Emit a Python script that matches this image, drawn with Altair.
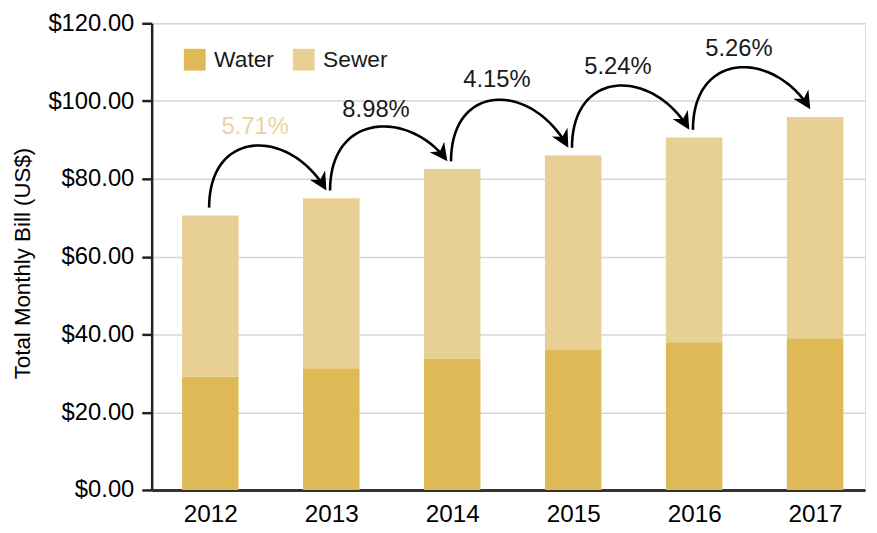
import math
import altair as alt
import numpy as np
import pandas as pd

# ---- data ----
years = [2012, 2013, 2014, 2015, 2016, 2017]
water = [29.2, 31.3, 33.8, 36.0, 38.0, 39.0]
sewer = [41.4, 43.7, 48.7, 50.0, 52.6, 56.9]
growth_labels = ["5.71%", "8.98%", "4.15%", "5.24%", "5.26%"]
y_ticks = [0, 20, 40, 60, 80, 100, 120]
series = ["Water", "Sewer"]
series_colors = ["#DEB955", "#E8CF94"]

FONT = "Liberation Sans, Arial, Helvetica, sans-serif"
TEXT = "#1a1a1a"
W, H = 720, 471
X_DOMAIN = [2011.556, 2017.372]
Y_DOMAIN = [0, 120]
px_x = W / (X_DOMAIN[1] - X_DOMAIN[0])
px_y = H / (Y_DOMAIN[1] - Y_DOMAIN[0])

totals = [w + s for w, s in zip(water, sewer)]

# bar table
bar_rows = []
for yr, w, tot in zip(years, water, totals):
    bar_rows.append({"year": yr, "series": "Water", "lo": 0.0, "hi": w})
    bar_rows.append({"year": yr, "series": "Sewer", "lo": w, "hi": tot})
bars_df = pd.DataFrame(bar_rows)

# curved arrows derived from bar totals
arc_rows, head_rows, label_rows = [], [], []
for i in range(len(years) - 1):
    x0, y0 = years[i] - 0.01, totals[i] + 2
    x1, y1 = years[i + 1] - 0.04, totals[i + 1] + 2
    yc = y0 + 20.5
    pts = [(x0, y0), (x0, yc), (x1 - 0.3, yc), (x1, y1)]
    for k, t in enumerate(np.linspace(0, 0.95, 40)):
        b = [(1 - t) ** 3, 3 * (1 - t) ** 2 * t, 3 * (1 - t) * t ** 2, t ** 3]
        bx = sum(c * p[0] for c, p in zip(b, pts))
        by = sum(c * p[1] for c, p in zip(b, pts))
        arc_rows.append({"arc": i, "k": k, "x": bx, "y": by})
    dx = 0.3 * px_x
    dy = (yc - y1) * px_y
    theta = math.degrees(math.atan2(dx, dy))
    head_rows.append({"arc": i, "x": x1, "y": y1, "ang": (360 - theta) % 360})
    label_rows.append({"arc": i, "x": x0 + 0.38, "y": totals[i] + 22.8,
                       "label": growth_labels[i]})
arcs_df = pd.DataFrame(arc_rows)
heads_df = pd.DataFrame(head_rows)
labels_df = pd.DataFrame(label_rows)

xscale = alt.Scale(domain=X_DOMAIN, nice=False, zero=False)
yscale = alt.Scale(domain=Y_DOMAIN, nice=False)

x_axis = alt.Axis(values=years, format="d", title=None, grid=False,
                  ticks=False, labelPadding=13, labelFontSize=24.5,
                  domainColor="#333333", domainWidth=3, labelFlush=False)
y_axis = alt.Axis(values=y_ticks, format="$.2f",
                  title="Total Monthly Bill (US$)", grid=True,
                  gridColor="#d6d6d6", gridWidth=1.5,
                  tickSize=10, tickWidth=2.5, tickColor="#222222",
                  domainColor="#222222", domainWidth=2.5,
                  labelPadding=8, labelFontSize=24,
                  titleFontSize=22.5, titleFontWeight="normal",
                  titleX=-130, titleY=242, titleAlign="center",
                  titleBaseline="middle", titleAngle=270)

bars = alt.Chart(bars_df).mark_bar(width=57).encode(
    x=alt.X("year:Q", scale=xscale, axis=x_axis),
    y=alt.Y("hi:Q", scale=yscale, axis=y_axis),
    y2="lo:Q",
    color=alt.Color("series:N",
                    scale=alt.Scale(domain=series, range=series_colors),
                    legend=alt.Legend(orient="none", legendX=32, legendY=25,
                                      direction="horizontal", title=None,
                                      symbolType="square", symbolSize=484,
                                      symbolStrokeWidth=0,
                                      labelFont=FONT, labelFontSize=23,
                                      labelColor=TEXT, labelOffset=8,
                                      columnPadding=18, padding=0)),
)

arcs = alt.Chart(arcs_df).mark_line(color="black", strokeWidth=2.6).encode(
    x=alt.X("x:Q", scale=xscale, axis=x_axis),
    y=alt.Y("y:Q", scale=yscale, axis=y_axis),
    detail="arc:N",
    order="k:Q",
)

heads = alt.Chart(heads_df).mark_point(
    shape="M0,0L-0.5,-1L0,-0.7L0.5,-1Z", size=1296, filled=True,
    color="black", opacity=1, strokeWidth=0,
).encode(
    x=alt.X("x:Q", scale=xscale, axis=x_axis),
    y=alt.Y("y:Q", scale=yscale, axis=y_axis),
    angle=alt.Angle("ang:Q", scale=None),
)

labels = alt.Chart(labels_df).mark_text(
    font=FONT, fontSize=24, align="center", baseline="middle",
).encode(
    x=alt.X("x:Q", scale=xscale, axis=x_axis),
    y=alt.Y("y:Q", scale=yscale, axis=y_axis),
    text="label:N",
    color=alt.condition(alt.datum.arc == 0, alt.value("#E8D4A0"),
                        alt.value(TEXT)),
)

chart = alt.layer(bars, arcs, heads, labels).properties(
    width=W, height=H,
    autosize=alt.AutoSizeParams(type="none"),
    padding={"left": 145, "top": 13, "right": 4, "bottom": 40},
).configure_view(strokeWidth=0).configure_axis(
    labelFont=FONT, titleFont=FONT, labelColor=TEXT, titleColor=TEXT,
).configure(background="white")

chart.save("out.html", embed_options={"renderer": "svg", "actions": False})
